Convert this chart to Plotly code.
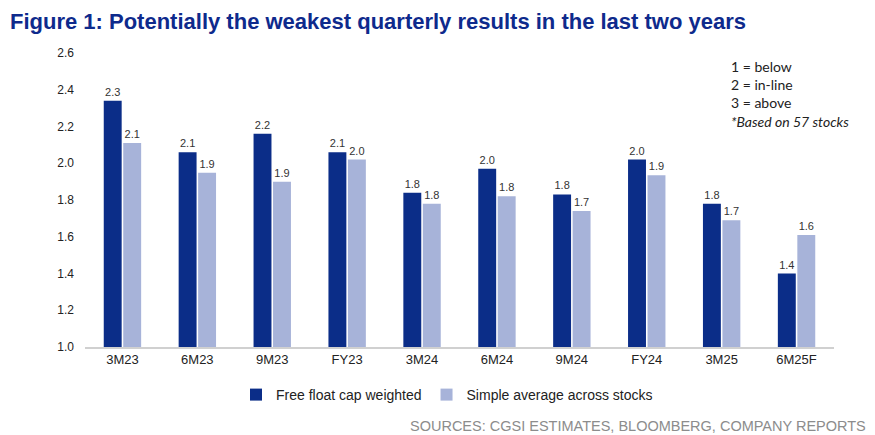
import plotly.graph_objects as go

categories = ["3M23", "6M23", "9M23", "FY23", "3M24", "6M24", "9M24", "FY24", "3M25", "6M25F"]
free_float = [2.34, 2.06, 2.16, 2.06, 1.84, 1.97, 1.83, 2.02, 1.78, 1.40]
simple_avg = [2.11, 1.948, 1.90, 2.02, 1.78, 1.82, 1.74, 1.935, 1.69, 1.61]
y_ticks = [1.0, 1.2, 1.4, 1.6, 1.8, 2.0, 2.2, 2.4, 2.6]

# page has an 8px body margin: work in screen coordinates and shift
O = 8
W, H = 875 - O, 435 - O
L, T = 85 - O, 53 - O
R = W - (834 - O)
B = H - (347 - O)
pw, ph = W - L - R, H - T - B

def px(x):
    return (x - O - L) / pw

def py(y):
    return (H - B - (y - O)) / ph

fig = go.Figure()
fig.add_trace(go.Bar(
    x=categories, y=free_float, name="Free float cap weighted",
    marker=dict(color="#0B2D88", line=dict(width=0)),
    texttemplate="%{y:.1f}", textposition="outside",
    textfont=dict(family="Liberation Sans, Arial", size=11, color="#333333"),
    cliponaxis=False,
))
fig.add_trace(go.Bar(
    x=categories, y=simple_avg, name="Simple average across stocks",
    marker=dict(color="#A7B3D9", line=dict(width=0)),
    texttemplate="%{y:.1f}", textposition="outside",
    textfont=dict(family="Liberation Sans, Arial", size=11, color="#333333"),
    cliponaxis=False,
))

fig.update_layout(
    width=W, height=H,
    margin=dict(l=L, r=R, t=T, b=B),
    paper_bgcolor="white", plot_bgcolor="white",
    barmode="group", bargap=0.48, bargroupgap=0.08,
    font=dict(family="Liberation Sans, Arial", size=12, color="#222222"),
    xaxis=dict(
        showline=True, linecolor="#D0D0D0", linewidth=1.5,
        ticks="", showgrid=False,
        tickfont=dict(size=13, color="#222222"),
    ),
    yaxis=dict(
        range=[1.0, 2.6], tickvals=y_ticks, tickformat=".1f",
        showgrid=False, zeroline=False, showline=False, ticks="",
        ticklabelstandoff=10,
        tickfont=dict(size=12, color="#222222"),
    ),
    legend=dict(
        orientation="h", x=px(236), xanchor="left", y=py(379), yanchor="top",
        font=dict(size=14, color="#222222"),
        traceorder="normal",
    ),
    showlegend=True,
)

fig.add_annotation(
    xref="paper", yref="paper", x=px(8), y=py(21), xanchor="left", yanchor="middle",
    text="<b>Figure 1: Potentially the weakest quarterly results in the last two years</b>",
    showarrow=False,
    font=dict(family="Liberation Sans, Arial", size=22, color="#0E2A8C"),
)
fig.add_annotation(
    xref="paper", yref="paper", x=px(729), y=py(56), xanchor="left", yanchor="top",
    text="1 = below<br>2 = in-line<br>3 = above<br><i>*Based on 57 stocks</i>",
    showarrow=False, align="left",
    font=dict(family="Lato, Open Sans", size=14, color="#222222"),
)
fig.add_annotation(
    xref="paper", yref="paper", x=px(868), y=py(426), xanchor="right", yanchor="middle",
    text="SOURCES: CGSI ESTIMATES, BLOOMBERG, COMPANY REPORTS",
    showarrow=False,
    font=dict(family="Liberation Sans, Arial", size=14.5, color="#8C8C8C"),
)

fig.write_html("out.html")
